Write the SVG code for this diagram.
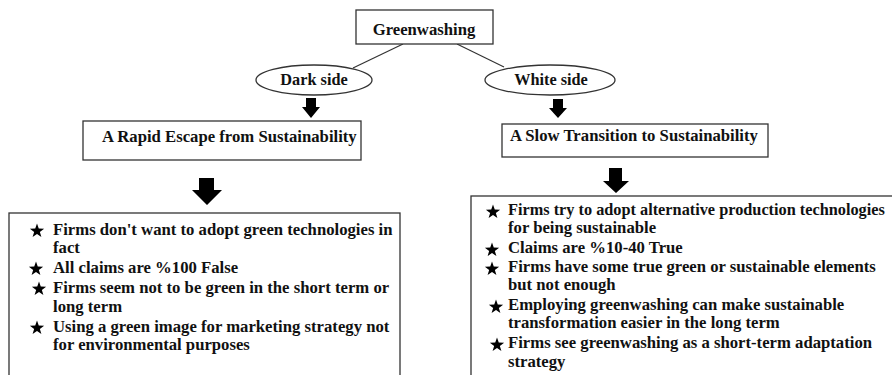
<svg xmlns="http://www.w3.org/2000/svg" width="892" height="375" viewBox="0 0 892 375">
<defs>
<style>
.box{fill:#fff;stroke:#333;stroke-width:1.3}
text{font-family:'Liberation Serif','Times New Roman',serif;font-weight:700;font-size:16.7px;fill:#111}
.c{text-anchor:middle}
.s{font-size:16.3px}
.ln{stroke:#333;stroke-width:1.2;fill:none}
.ar{fill:#000}
</style>
<polygon id="star" points="0,-7.5 1.76,-2.43 7.13,-2.32 2.85,0.93 4.41,6.07 0,3 -4.41,6.07 -2.85,0.93 -7.13,-2.32 -1.76,-2.43" fill="#000"/>
</defs>
<rect width="892" height="375" fill="#fff"/>
<g id="connectors">
<line class="ln" x1="403" y1="44" x2="353" y2="68"/>
<line class="ln" x1="457" y1="44" x2="504" y2="67"/>
<polygon class="ar" points="306,98 316,98 316,107 320,107 311,118 302,107 306,107"/>
<polygon class="ar" points="553,99 563,99 563,108 567,108 558,118 549,108 553,108"/>
<polygon class="ar" points="199,178 214,178 214,190 222,190 207,205 192,190 199,190"/>
<polygon class="ar" points="609,168 622,168 622,181 629,181 616,193 603,181 609,181"/>
</g>
<g id="greenwashing">
<rect class="box" x="356" y="10" width="137" height="34"/>
<text class="c" x="424" y="35">Greenwashing</text>
</g>
<g id="dark-side">
<ellipse class="box" cx="314" cy="80" rx="58" ry="15"/>
<text class="c s" x="314" y="85">Dark side</text>
</g>
<g id="white-side">
<ellipse class="box" cx="550" cy="80" rx="65" ry="15"/>
<text class="c s" x="551" y="85">White side</text>
</g>
<g id="rapid-escape">
<rect class="box" x="83" y="121" width="278" height="39"/>
<text x="102" y="142">A Rapid Escape from Sustainability</text>
</g>
<g id="slow-transition">
<rect class="box" x="502" y="124" width="266" height="33"/>
<text x="510" y="141">A Slow Transition to Sustainability</text>
</g>
<g id="dark-list">
<rect class="box" x="9" y="213" width="391" height="170"/>
<use href="#star" x="37" y="231"/>
<use href="#star" x="36" y="269"/>
<use href="#star" x="39" y="289"/>
<use href="#star" x="37" y="328"/>
<text x="53" y="235">Firms don't want to adopt green technologies in</text>
<text x="53" y="253">fact</text>
<text x="53" y="273">All claims are %100 False</text>
<text x="53" y="293">Firms seem not to be green in the short term or</text>
<text x="53" y="312">long term</text>
<text x="53" y="332">Using a green image for marketing strategy not</text>
<text x="53" y="350">for environmental purposes</text>
</g>
<g id="white-list">
<rect class="box" x="471" y="196" width="430" height="190"/>
<use href="#star" x="493" y="212"/>
<use href="#star" x="492" y="250"/>
<use href="#star" x="492" y="269"/>
<use href="#star" x="496" y="307"/>
<use href="#star" x="497" y="345"/>
<text x="508" y="215" style="font-size:16.3px">Firms try to adopt alternative production technologies</text>
<text x="508" y="233">for being sustainable</text>
<text x="508" y="253">Claims are %10-40 True</text>
<text x="508" y="272">Firms have some true green or sustainable elements</text>
<text x="508" y="290">but not enough</text>
<text x="508" y="310">Employing greenwashing can make sustainable</text>
<text x="508" y="328">transformation easier in the long term</text>
<text x="508" y="348">Firms see greenwashing as a short-term adaptation</text>
<text x="508" y="367">strategy</text>
</g>
</svg>
